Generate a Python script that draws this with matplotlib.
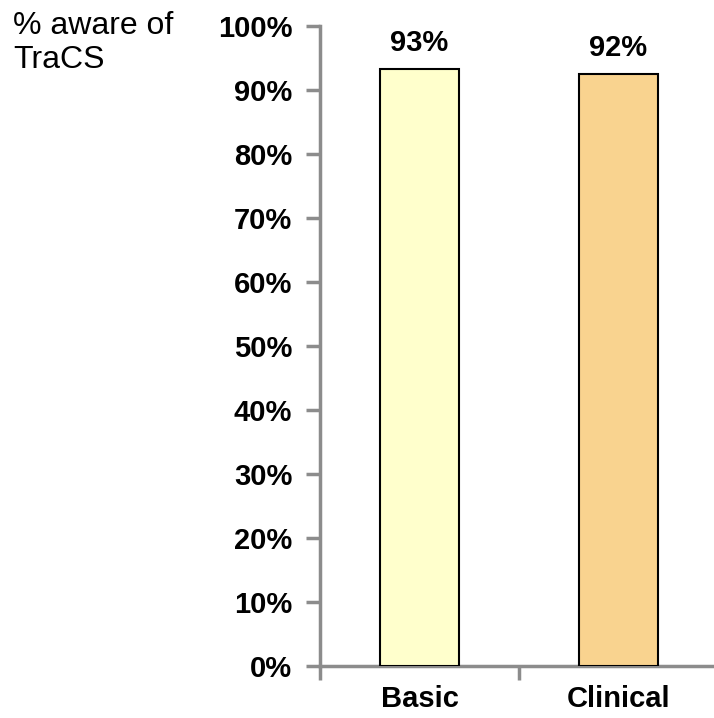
import matplotlib.pyplot as plt
import numpy as np

plt.rcParams['font.family'] = ['Liberation Sans', 'DejaVu Sans']

groups = ['Basic', 'Clinical']
aware = [93.3, 92.5]
labels = ['93%', '92%']
colors = ['#FFFFCC', '#F9D38F']
yticks = np.arange(0, 101, 10)

fig = plt.figure(figsize=(7.14, 7.18), dpi=100)
ax = fig.add_axes([320/714, 1-666/718, 398/714, 640/718])

x = np.arange(len(groups))
ax.bar(x, aware, width=0.4, color=colors, edgecolor='black', linewidth=1.5, zorder=3)
for xi, v, lab in zip(x, aware, labels):
    ax.text(xi, v + 1.8, lab, ha='center', va='bottom', fontsize=21, fontweight='bold')

ax.set_xlim(-0.5, 1.5)
ax.set_ylim(0, 100)
ax.set_yticks(yticks)
ax.set_yticklabels([f'{t}%' for t in yticks], fontsize=21, fontweight='bold')
ax.set_xticks(x)
ax.set_xticklabels(groups, fontsize=21, fontweight='bold')
ax.set_xticks([-0.5, 0.5, 1.5], minor=True)
ax.tick_params(axis='x', which='major', length=0, pad=14)
ax.tick_params(axis='x', which='minor', length=10, width=2.5, color='#8c8c8c', direction='out')
ax.tick_params(axis='y', length=10, width=2.5, color='#8c8c8c', pad=10)

for s in ['top', 'right']:
    ax.spines[s].set_visible(False)
for s in ['left', 'bottom']:
    ax.spines[s].set_color('#8c8c8c')
    ax.spines[s].set_linewidth(2.5)

fig.text(13/714, 1-11/718, '% aware of\nTraCS', ha='left', va='top', fontsize=23, linespacing=1.18)

fig.savefig('out.png', dpi=100)
